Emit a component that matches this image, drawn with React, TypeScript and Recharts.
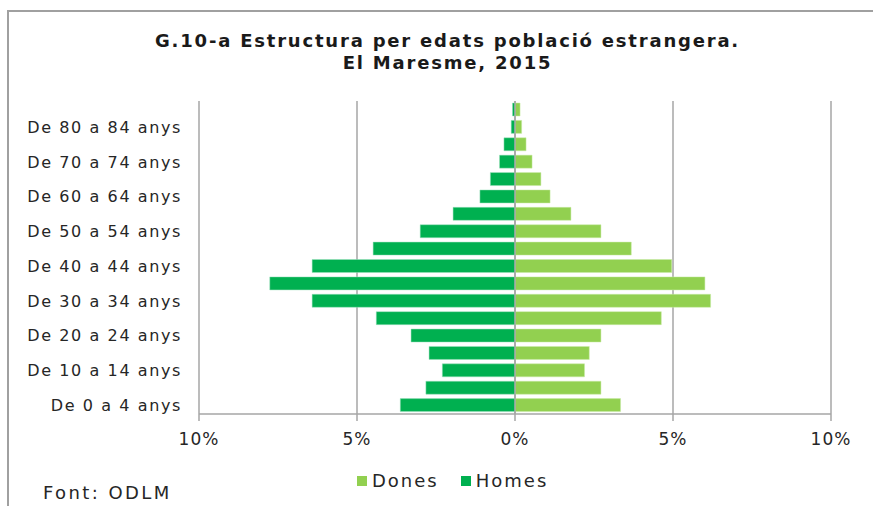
import React from "react";
import {
  BarChart,
  Bar,
  XAxis,
  YAxis,
  CartesianGrid,
  Legend,
  ReferenceLine,
} from "recharts";

// edats, de baix a dalt
const ages = [
  "De 0 a 4 anys",
  "De 5 a 9 anys",
  "De 10 a 14 anys",
  "De 15 a 19 anys",
  "De 20 a 24 anys",
  "De 25 a 29 anys",
  "De 30 a 34 anys",
  "De 35 a 39 anys",
  "De 40 a 44 anys",
  "De 45 a 49 anys",
  "De 50 a 54 anys",
  "De 55 a 59 anys",
  "De 60 a 64 anys",
  "De 65 a 69 anys",
  "De 70 a 74 anys",
  "De 75 a 79 anys",
  "De 80 a 84 anys",
  "De 85 anys i més",
];

const homes = [3.63, 2.82, 2.3, 2.72, 3.29, 4.39, 6.42, 7.76, 6.42, 4.49, 3.0, 1.96, 1.11, 0.78, 0.49, 0.35, 0.12, 0.08];
const dones = [3.34, 2.72, 2.2, 2.35, 2.72, 4.63, 6.19, 6.01, 4.96, 3.68, 2.72, 1.77, 1.11, 0.82, 0.54, 0.35, 0.21, 0.16];

const xTicks = [-10, -5, 0, 5, 10];

const data = ages.map((age, i) => ({
  age,
  Dones: dones[i],
  Homes: -homes[i],
}));

const FONT = "'DejaVu Sans', Verdana, sans-serif";
const TEXT = "#262626";
const GRID = "#A6A6A6";

// llegenda a mida, per controlar els espais
const renderLegend = (props: any) => {
  const items = props.payload || [];
  return (
    <div style={{ display: "flex", alignItems: "center", paddingLeft: 357 }}>
      {items.map((it: any, i: number) => (
        <div key={i} style={{ display: "flex", alignItems: "center", marginRight: 22 }}>
          <span style={{ width: 10, height: 10, background: it.color, marginRight: 5, display: "inline-block" }} />
          <span style={{ color: TEXT }}>{it.value}</span>
        </div>
      ))}
    </div>
  );
};

export default function App() {
  return (
    <div
      style={{
        position: "fixed",
        left: 0,
        top: 0,
        width: 873,
        height: 506,
        background: "#fff",
        fontFamily: FONT,
        overflow: "hidden",
      }}
    >
      {/* marc */}
      <div
        style={{
          position: "absolute",
          left: 7,
          top: 10,
          width: 880,
          height: 510,
          borderTop: "2px solid #A0A0A0",
          borderLeft: "2px solid #A0A0A0",
        }}
      />
      <div
        style={{
          position: "absolute",
          left: 0,
          top: 30,
          width: 895,
          textAlign: "center",
          fontWeight: "bold",
          fontSize: 18,
          letterSpacing: 1.8,
          lineHeight: "22px",
          color: "#1a1a1a",
        }}
      >
        G.10-a Estructura per edats població estrangera.
        <br />
        El Maresme, 2015
      </div>
      <div style={{ position: "absolute", left: 0, top: 0 }}>
        <BarChart
          width={873}
          height={506}
          data={data}
          layout="vertical"
          stackOffset="sign"
          barCategoryGap={2}
          margin={{ top: 101, right: 42, bottom: 40, left: 0 }}
        >
          <CartesianGrid horizontal={false} stroke={GRID} strokeWidth={1.5} />
          <XAxis
            type="number"
            domain={[-10, 10]}
            ticks={xTicks}
            tickFormatter={(v: number) => `${Math.abs(v)}%`}
            stroke={GRID}
            strokeWidth={1.5}
            tickSize={7}
            tickMargin={12}
            tick={{ fill: TEXT, fontSize: 17, fontFamily: FONT, letterSpacing: 1 }}
            height={30}
          />
          <YAxis
            type="category"
            dataKey="age"
            reversed
            interval={1}
            width={199}
            axisLine={false}
            tickLine={false}
            tickMargin={11}
            tick={{ fill: TEXT, fontSize: 16, fontFamily: FONT, letterSpacing: 1.6 }}
          />
          <Legend
            content={renderLegend}
            wrapperStyle={{
              position: "absolute",
              top: 470,
              left: 0,
              width: 873,
              height: 22,
              fontSize: 18,
              letterSpacing: 2,
              fontFamily: FONT,
            }}
          />
          <Bar dataKey="Dones" stackId="p" fill="#92D050" stroke="#C9EBA6" strokeWidth={0.5} isAnimationActive={false} />
          <Bar dataKey="Homes" stackId="p" fill="#00B050" stroke="#9FE0BE" strokeWidth={0.5} isAnimationActive={false} />
          <ReferenceLine x={0} stroke={GRID} strokeWidth={1.5} />
        </BarChart>
      </div>
      <div
        style={{
          position: "absolute",
          left: 43,
          top: 482,
          fontSize: 18,
          letterSpacing: 2.4,
          color: TEXT,
        }}
      >
        Font: ODLM
      </div>
    </div>
  );
}
